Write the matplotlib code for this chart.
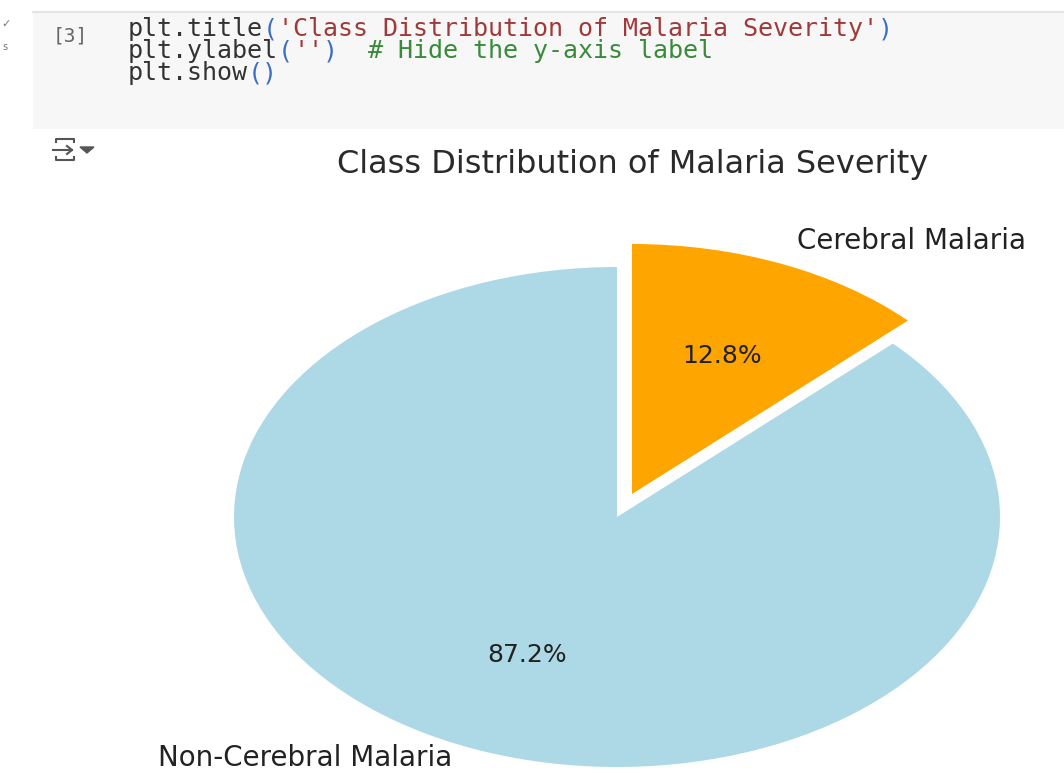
import matplotlib.pyplot as plt
from matplotlib.patches import Rectangle, Polygon
from matplotlib.lines import Line2D

# class shares (percent)
classes = ['Non-Cerebral Malaria', 'Cerebral Malaria']
shares = [87.2, 12.8]
slice_colors = ['lightblue', 'orange']
explode = [0, 0.1]
title = 'Class Distribution of Malaria Severity'

# notebook cell source, as (text, colour) tokens per line
code_lines = [
    [('plt.title', '#333333'), ('(', '#3c6fc0'),
     ("'Class Distribution of Malaria Severity'", '#a03a3a'), (')', '#3c6fc0')],
    [('plt.ylabel', '#333333'), ('(', '#3c6fc0'), ("''", '#a03a3a'),
     (')', '#3c6fc0'), ('  # Hide the y-axis label', '#3a8a3a')],
    [('plt.show', '#333333'), ('()', '#3c6fc0')],
]

W, H = 1064, 773
fig = plt.figure(figsize=(W / 100, H / 100), dpi=100)
renderer = fig.canvas.get_renderer()


def fx(px):
    return px / W


def fy(py):
    return 1 - py / H


# code cell background
fig.add_artist(Rectangle((fx(33), fy(129)), fx(W) - fx(33), fy(12) - fy(129),
                         transform=fig.transFigure, facecolor='#f7f7f7',
                         edgecolor='none'))
fig.add_artist(Line2D([fx(33), 1], [fy(12), fy(12)], transform=fig.transFigure,
                      color='#e4e4e4', lw=1.5))
fig.text(fx(53), fy(36), '[3]', fontsize=14, color='#666666',
         family='DejaVu Sans Mono', va='center')
fig.text(fx(1), fy(24), '✓', fontsize=8, color='#777777', va='center')
fig.text(fx(2), fy(47), 's', fontsize=7, color='#777777', va='center')

# each line is laid out token by token, butting against the previous one
for i, tokens in enumerate(code_lines):
    x = fx(128)
    y = fy(29 + 22 * i)
    for txt, col in tokens:
        t = fig.text(x, y, txt, fontsize=18, color=col,
                     family='DejaVu Sans Mono', va='center', ha='left')
        bb = t.get_window_extent(renderer)
        x += (bb.x1 - bb.x0) / W

# output toggle icon
icon = dict(transform=fig.transFigure, color='#555555', lw=1.5)
fig.add_artist(Line2D([fx(56), fx(56), fx(74), fx(74)],
                      [fy(142), fy(139), fy(139), fy(142)], **icon))
fig.add_artist(Line2D([fx(56), fx(56), fx(74), fx(74)],
                      [fy(157), fy(160), fy(160), fy(157)], **icon))
fig.add_artist(Line2D([fx(53), fx(72)], [fy(150), fy(150)], **icon))
fig.add_artist(Line2D([fx(67), fx(72), fx(67)], [fy(146), fy(150), fy(154)], **icon))
fig.add_artist(Polygon([[fx(80), fy(147)], [fx(94), fy(147)], [fx(87), fy(153)]],
                       closed=True, transform=fig.transFigure, color='#555555'))

# pie axes: unit radius is 383 px wide and 250 px tall, centred at (617, 517)
cx, cy, rx, ry = 617, 517, 383, 250
x0, x1, y0, y1 = -1.5, 1.1, -1.02, 1.2
ax = fig.add_axes([fx(cx + x0 * rx), fy(cy - y0 * ry),
                   (x1 - x0) * rx / W, (y1 - y0) * ry / H])
wedges, labels, pcts = ax.pie(shares, labels=classes, colors=slice_colors,
                              explode=explode, autopct='%1.1f%%', startangle=90,
                              textprops={'fontsize': 20, 'color': '#222222'})
for t in pcts:
    t.set_fontsize(18)
# keep the lower label inside the figure
lx, ly = labels[0].get_position()
labels[0].set_position((lx, -0.965))
ax.set_aspect('auto')
ax.set_xlim(x0, x1)
ax.set_ylim(y0, y1)
ax.set_ylabel('')
ax.axis('off')

fig.text(fx(633), fy(165), title, fontsize=23, color='#2a2a2a',
         ha='center', va='center')

fig.savefig('out.png', dpi=100)
